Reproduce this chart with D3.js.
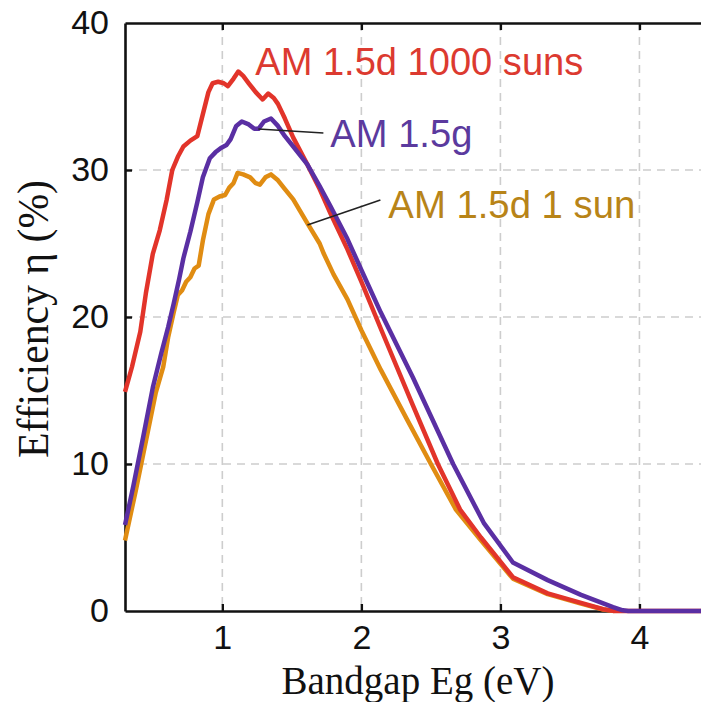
<!DOCTYPE html>
<html>
<head>
<meta charset="utf-8">
<script src="https://cdn.jsdelivr.net/npm/d3@7"></script>
<style>
  body { margin: 0; background: #fff; }
</style>
</head>
<body>
<div id="chart"></div>
<script>
// bandgap (eV) and efficiency (%)
var redE   = [0.30, 0.35, 0.41, 0.45, 0.50, 0.55, 0.60, 0.64, 0.68, 0.72, 0.77, 0.82, 0.86, 0.90, 0.93, 0.97, 1.01, 1.04, 1.08, 1.115, 1.15, 1.19, 1.24, 1.29, 1.33, 1.37, 1.40, 1.45, 1.51, 1.56, 1.61, 1.70, 1.78, 1.90, 2.00, 2.14, 2.37, 2.55, 2.71, 2.86, 3.09, 3.34, 3.58, 3.74, 3.82, 4.45];
var redV   = [14.9, 16.6, 19.0, 21.6, 24.3, 25.9, 28.0, 30.0, 30.9, 31.6, 32.0, 32.3, 33.8, 35.3, 35.9, 36.0, 35.9, 35.7, 36.2, 36.7, 36.4, 35.9, 35.3, 34.8, 35.2, 34.9, 34.5, 33.5, 32.2, 31.3, 30.4, 28.7, 27.0, 24.6, 22.4, 19.2, 14.0, 10.0, 6.9, 5.0, 2.3, 1.2, 0.55, 0.12, 0, 0];

var purpleE = [0.30, 0.36, 0.43, 0.50, 0.56, 0.61, 0.65, 0.69, 0.72, 0.77, 0.82, 0.86, 0.91, 0.95, 0.99, 1.03, 1.06, 1.10, 1.14, 1.19, 1.23, 1.26, 1.30, 1.35, 1.40, 1.45, 1.51, 1.56, 1.61, 1.70, 1.78, 1.90, 2.00, 2.14, 2.37, 2.66, 2.88, 3.09, 3.34, 3.58, 3.81, 3.88, 3.92, 4.45];
var purpleV = [5.85, 8.5, 11.8, 15.2, 17.5, 19.3, 20.9, 22.6, 24.0, 25.8, 27.8, 29.5, 30.8, 31.2, 31.5, 31.7, 32.1, 33.0, 33.3, 33.1, 32.8, 32.8, 33.3, 33.5, 33.0, 32.3, 31.6, 31.0, 30.4, 28.9, 27.5, 25.3, 23.2, 20.3, 15.9, 10.0, 6.0, 3.3, 2.1, 1.1, 0.27, 0.05, 0, 0];

var orangeE = [0.30, 0.38, 0.46, 0.52, 0.575, 0.61, 0.65, 0.68, 0.71, 0.74, 0.77, 0.80, 0.83, 0.86, 0.90, 0.94, 0.98, 1.02, 1.05, 1.08, 1.11, 1.15, 1.20, 1.24, 1.27, 1.31, 1.35, 1.40, 1.45, 1.51, 1.56, 1.61, 1.70, 1.73, 1.80, 1.90, 2.00, 2.14, 2.33, 2.50, 2.68, 2.86, 3.09, 3.34, 3.58, 3.74, 3.82];
var orangeV = [4.8, 8.3, 12.0, 14.8, 16.6, 18.6, 20.3, 21.5, 21.8, 22.4, 22.7, 23.3, 23.5, 25.2, 27.0, 28.0, 28.2, 28.3, 28.8, 29.1, 29.8, 29.7, 29.5, 29.1, 29.0, 29.5, 29.7, 29.3, 28.7, 28.0, 27.2, 26.4, 25.0, 24.3, 22.9, 21.2, 19.1, 16.4, 13.0, 10.0, 6.9, 4.8, 2.2, 1.15, 0.5, 0.1, 0];

var xTicks = [1, 2, 3, 4];
var yTicks = [0, 10, 20, 30, 40];

// label text, anchor point (eV, %), pointer start/end (eV, %)
var labelText  = ["AM 1.5d 1000 suns", "AM 1.5g", "AM 1.5d 1 sun"];
var labelAt    = [[1.237, 36.46], [1.777, 31.56], [2.194, 26.73]];
var pointers   = [null, [[1.259, 32.79], [1.727, 32.52]], [[1.612, 26.26], [2.137, 27.96]]];

function init(){
    var w = 701, h = 702;
    var left = 125, top = 23, bottom = 611, right = 702;

    var svg = d3.select("#chart")
                .append("svg")
                .attr("width", w)
                .attr("height", h);

    var xScale = d3.scaleLinear()
                .domain([0.3, 4.45])
                .range([left, right]);
    var yScale = d3.scaleLinear()
                .domain([0, 40])
                .range([bottom, top]);

    // dashed grid
    svg.selectAll("line.vgrid")
        .data(xTicks)
        .enter()
        .append("line")
        .attr("class", "vgrid")
        .attr("x1", function(d){ return xScale(d); })
        .attr("x2", function(d){ return xScale(d); })
        .attr("y1", top)
        .attr("y2", bottom)
        .attr("stroke", "#cdcdcd")
        .attr("stroke-width", 1.6)
        .attr("stroke-dasharray", "8,6");

    svg.selectAll("line.hgrid")
        .data([10, 20, 30])
        .enter()
        .append("line")
        .attr("class", "hgrid")
        .attr("x1", left)
        .attr("x2", right)
        .attr("y1", function(d){ return yScale(d); })
        .attr("y2", function(d){ return yScale(d); })
        .attr("stroke", "#cdcdcd")
        .attr("stroke-width", 1.6)
        .attr("stroke-dasharray", "8,6");

    //Axes, ticks inward
    var xAxis = d3.axisBottom(xScale).tickValues(xTicks).tickSize(-7).tickSizeOuter(0)
                  .tickPadding(14).tickFormat(d3.format("d"));
    var xTop  = d3.axisTop(xScale).tickValues(xTicks).tickSize(-7).tickSizeOuter(0).tickFormat("");
    var yAxis = d3.axisLeft(yScale).tickValues(yTicks).tickSize(-7).tickSizeOuter(0).tickPadding(16);

    var gx = svg.append("g")
        .attr("transform", "translate(0," + bottom + ")")
        .call(xAxis);
    var gt = svg.append("g")
        .attr("transform", "translate(0," + top + ")")
        .call(xTop);
    var gy = svg.append("g")
        .attr("transform", "translate(" + left + ",0)")
        .call(yAxis);

    [gx, gt, gy].forEach(function(g){
        g.select(".domain").attr("stroke", "#111").attr("stroke-width", 2.6);
        g.selectAll(".tick line").attr("stroke", "#111").attr("stroke-width", 2.4);
        g.selectAll("text")
            .attr("fill", "#111")
            .attr("font-family", "'Liberation Sans', Arial, sans-serif")
            .attr("font-size", "34px");
    });
    gy.selectAll(".tick line").filter(function(d){ return d == 0 || d == 40; }).remove();

    // axis titles
    svg.append("text")
        .attr("x", 418)
        .attr("y", 694)
        .attr("text-anchor", "middle")
        .attr("font-family", "'Liberation Serif', 'Times New Roman', serif")
        .attr("font-size", "41px")
        .attr("textLength", 273)
        .attr("lengthAdjust", "spacingAndGlyphs")
        .attr("fill", "#111")
        .text("Bandgap Eg (eV)");

    svg.append("text")
        .attr("transform", "translate(48,319) rotate(-90)")
        .attr("text-anchor", "middle")
        .attr("font-family", "'Liberation Serif', 'Times New Roman', serif")
        .attr("font-size", "44px")
        .attr("textLength", 278)
        .attr("lengthAdjust", "spacingAndGlyphs")
        .attr("fill", "#111")
        .text("Efficiency \u03b7 (%)");

    var line = d3.line()
        .x(function(d){ return xScale(d[0]); })
        .y(function(d){ return yScale(d[1]); });

    var series = [
        {e: orangeE, v: orangeV, color: "#e08c12"},
        {e: redE,    v: redV,    color: "#e2342a"},
        {e: purpleE, v: purpleV, color: "#5a2fa3"}
    ];

    series.forEach(function(s){
        svg.append("path")
            .datum(d3.zip(s.e, s.v))
            .attr("d", line)
            .attr("fill", "none")
            .attr("stroke", s.color)
            .attr("stroke-width", 4.5)
            .attr("stroke-linejoin", "round");
    });

    // pointers and labels
    pointers.forEach(function(p){
        if (!p) return;
        svg.append("line")
            .attr("x1", xScale(p[0][0])).attr("y1", yScale(p[0][1]))
            .attr("x2", xScale(p[1][0])).attr("y2", yScale(p[1][1]))
            .attr("stroke", "#222")
            .attr("stroke-width", 1.6);
    });

    var labelColors = ["#dc3a30", "#5b3a9e", "#b88418"];
    var labelWidths = [328, 142, 247];
    svg.selectAll("text.lbl")
        .data(labelText)
        .enter()
        .append("text")
        .attr("class", "lbl")
        .attr("x", function(d, i){ return xScale(labelAt[i][0]); })
        .attr("y", function(d, i){ return yScale(labelAt[i][1]); })
        .attr("font-family", "'Liberation Sans', Arial, sans-serif")
        .attr("font-size", "38px")
        .attr("textLength", function(d, i){ return labelWidths[i]; })
        .attr("lengthAdjust", "spacingAndGlyphs")
        .attr("fill", function(d, i){ return labelColors[i]; })
        .text(function(d){ return d; });
}

window.onload = init;
</script>
</body>
</html>
